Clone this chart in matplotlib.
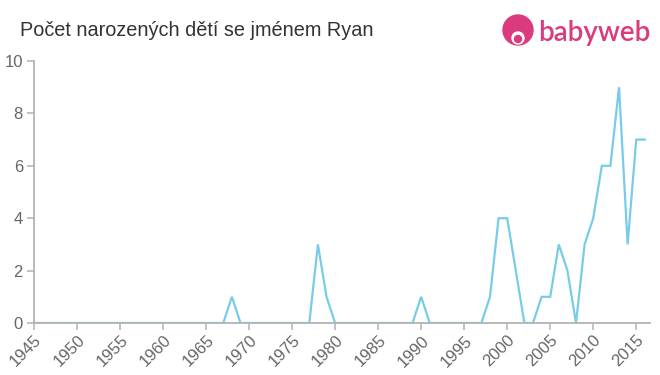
import numpy as np
import matplotlib.pyplot as plt
from matplotlib.patches import Ellipse

plt.rcParams['font.family'] = ['Liberation Sans', 'DejaVu Sans']

# pocet narozenych deti se jmenem Ryan po letech
roky = list(range(1945, 2017))
pocty_nenulove = {
    1968: 1, 1978: 3, 1979: 1, 1990: 1,
    1998: 1, 1999: 4, 2000: 4, 2001: 2,
    2004: 1, 2005: 1, 2006: 3, 2007: 2,
    2009: 3, 2010: 4, 2011: 6, 2012: 6,
    2013: 9, 2014: 3, 2015: 7, 2016: 7,
}
pocty = [pocty_nenulove.get(r, 0) for r in roky]

x_ticks = list(range(1945, 2016, 5))
y_ticks = [0, 2, 4, 6, 8, 10]

seda = '#b3b3b3'
text_barva = '#666666'

fig = plt.figure(figsize=(6.6, 3.75), dpi=100)
ax = fig.add_axes([34 / 660, 52 / 375, 616 / 660, 262 / 375])

ax.plot(roky, pocty, color='#78cce8', linewidth=1.6, solid_joinstyle='miter')

ax.set_xlim(1945, 2016.6)
ax.set_ylim(0, 10)
ax.set_xticks(x_ticks)
ax.set_xticklabels([str(r) for r in x_ticks], rotation=45, ha='right',
                   rotation_mode='anchor')
ax.set_yticks(y_ticks)

for s in ['top', 'right']:
    ax.spines[s].set_visible(False)
for s in ['left', 'bottom']:
    ax.spines[s].set_color(seda)
    ax.spines[s].set_linewidth(1.3)
ax.tick_params(axis='both', colors=seda, labelcolor=text_barva,
               labelsize=12, length=5, width=1.1)
ax.tick_params(axis='x', pad=2)
ax.tick_params(axis='y', pad=3)

fig.text(20 / 660, 1 - 30 / 375, 'Počet narozených dětí se jménem Ryan',
         fontsize=14.3, color='#333333', va='center', ha='left')

# logo babyweb
ruzova = '#dc3a7e'
cx, cy = 518 / 660, 1 - 30 / 375
fig.patches.append(Ellipse((cx, cy), 30 / 660, 30 / 375, color=ruzova,
                           transform=fig.transFigure))
fig.patches.append(Ellipse((cx, cy - 8 / 375), 12 / 660, 12 / 375,
                           color='white', transform=fig.transFigure))
fig.patches.append(Ellipse((cx, cy - 9 / 375), 7 / 660, 7 / 375,
                           color=ruzova, transform=fig.transFigure))
fig.text(538 / 660, 1 - 33 / 375, 'babyweb', fontsize=20, color=ruzova,
         va='center', ha='left', fontweight='semibold',
         family=['Lato', 'DejaVu Sans'])

fig.savefig('out.png', dpi=100)
